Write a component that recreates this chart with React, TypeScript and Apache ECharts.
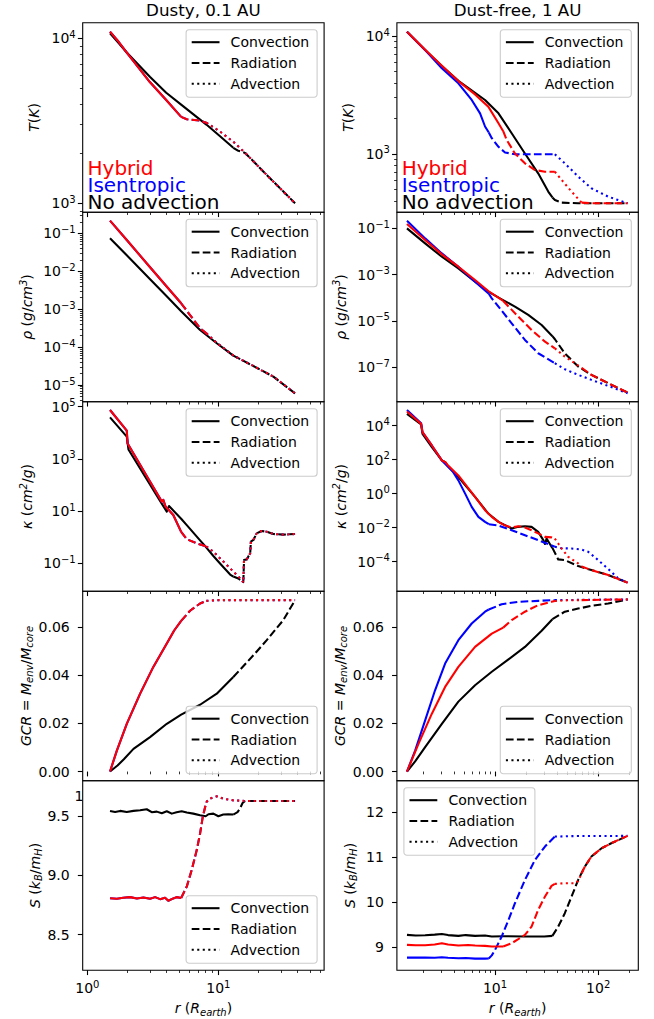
import React, { useEffect, useRef } from "react";
import * as echarts from "echarts";

type Pt = [number, number];
type Regime = [string, number, number];

// ================= Dusty, 0.1 AU (left column) =================
// radius r (R_earth) , value
const dustyT_noAdv: Pt[] = [[1.49,10720],[1.7,9530],[2,8200],[3,5850],[4,4680],[5.2,3960],[8.1,3000],[10.3,2550],[13,2170],[14,2090],[16,2020],[24,1455],[38.5,1000]];
const dustyT_hybrid: Pt[] = [[1.49,10970],[1.7,9700],[2,8180],[3,5430],[4,4230],[5.2,3340],[5.74,3230],[7.25,3170],[8.1,3080],[10.3,2720],[13,2360],[16,2020],[24,1455],[38.5,1000]];

const dustyRho_noAdv: Pt[] = [[1.49,0.0738],[2,0.0263],[3,6.25e-3],[4,2.25e-3],[5.2,8.8e-4],[7.25,2.83e-4],[9.72,1.26e-4],[13,5.94e-5],[18.5,3.17e-5],[26.3,1.66e-5],[38.5,6.0e-6]];
const dustyRho_hybrid: Pt[] = [[1.49,0.216],[2,0.0667],[3,0.0129],[4,4.08e-3],[5.2,1.43e-3],[6.08,7.0e-4],[7.25,3.13e-4],[8.1,2.3e-4],[9.72,1.3e-4],[13,6.0e-5],[18.5,3.17e-5],[26.3,1.66e-5],[38.5,6.0e-6]];

const dustyKappa_noAdv: Pt[] = [[1.49,3.9e4],[2.0,7.1e3],[2.06,2.3e3],[2.84,166],[3.59,24.3],[4.04,9.5],[4.2,15.6],[5.2,5.1],[5.74,2.9],[7.25,0.75],[8.1,0.40],[9.16,0.19],[10.3,0.098],[12.3,0.037],[13,0.031],[14.2,0.026],[15.5,0.019],[15.7,0.133],[16.5,0.141],[16.9,0.179],[17.5,0.24],[17.7,0.67],[18.5,0.78],[19.6,1.40],[21.4,1.72],[23.4,1.62],[26.3,1.32],[31.3,1.25],[38.5,1.32]];
const dustyKappa_hybrid: Pt[] = [[1.49,7.45e4],[2.0,1.2e4],[2.03,3.9e3],[2.84,222],[3.59,29.9],[3.7,22.9],[3.8,27],[3.95,15],[4.53,7.07],[5.2,1.6],[5.74,0.83],[6.84,0.58],[8.1,0.44],[9.16,0.278],[11.6,0.086],[13,0.048],[15.1,0.023],[15.5,0.018],[15.7,0.133],[16.5,0.141],[16.9,0.179],[17.5,0.24],[17.7,0.67],[18.5,0.78],[19.6,1.40],[21.4,1.72],[23.4,1.62],[26.3,1.32],[31.3,1.25],[38.5,1.32]];

const dustyGCR_noAdv: Pt[] = [[1.49,0],[1.7,0.0025],[1.9,0.0051],[2.25,0.0094],[3.01,0.0143],[4.04,0.0198],[5.2,0.0236],[7.25,0.0277],[9.72,0.0323],[13,0.0392],[18.5,0.0482],[23.4,0.0545],[31.3,0.0628],[38.5,0.0711]];
const dustyGCR_hybrid: Pt[] = [[1.49,0],[1.68,0.0087],[2.0,0.0198],[2.53,0.0323],[3.19,0.0434],[4.04,0.0531],[4.6,0.0585],[5.2,0.0625],[6.08,0.0667],[7.25,0.0697],[8.1,0.0708],[10,0.0711],[38.5,0.0711]];

const dustyS_noAdv: Pt[] = [[1.49,9.545],[1.63,9.536],[1.78,9.545],[2.0,9.536],[2.25,9.545],[2.53,9.55],[2.84,9.559],[3.1,9.534],[3.39,9.539],[3.7,9.525],[4.04,9.542],[4.41,9.522],[4.8,9.534],[5.25,9.542],[5.74,9.531],[6.44,9.522],[7.25,9.508],[8.0,9.5],[8.4,9.517],[9.16,9.522],[10,9.5],[10.9,9.514],[11.9,9.517],[13,9.514],[14,9.534],[14.6,9.564],[15.3,9.612],[16,9.629],[38.5,9.629]];
const dustyS_hybrid: Pt[] = [[1.49,8.808],[1.68,8.803],[1.88,8.811],[2.12,8.817],[2.39,8.806],[2.68,8.814],[3.01,8.803],[3.29,8.817],[3.59,8.8],[3.92,8.811],[4.15,8.786],[4.53,8.806],[4.8,8.817],[5.2,8.81],[5.74,8.906],[6.26,9.046],[6.84,9.214],[7.25,9.354],[7.6,9.494],[8.1,9.62],[8.55,9.648],[9.72,9.668],[10.9,9.648],[13,9.634],[16,9.629],[38.5,9.629]];
// (in the dusty case the isentropic model coincides with the hybrid one)

// ================= Dust-free, 1 AU (right column) =================
const freeT_noAdv: Pt[] = [[1.4,10890],[2.1,7610],[3.05,5560],[4.41,4170],[6.4,3300],[8.0,2870],[10.8,2210],[14.5,1500],[19.5,1010],[26.2,685],[32.8,480],[36,428],[38.1,407],[44.2,387],[64,382],[193,382]];
const freeT_hybrid: Pt[] = [[1.4,10890],[2.1,7660],[3.05,5600],[4.41,4150],[6.4,3200],[8.6,2520],[10.8,1820],[12,1560],[13,1310],[15.6,1010],[19.5,834],[24.4,731],[30.5,708],[38,708],[44.2,603],[55.2,480],[69,387],[86,382],[193,382]];
const freeT_isen: Pt[] = [[1.4,10890],[2.1,7610],[3.05,5320],[4.41,3970],[5.94,2870],[7.16,2210],[8.0,1710],[8.7,1520],[9.3,1360],[10.8,1150],[12.5,1030],[15.6,995],[38,995],[47.5,834],[64,643],[86,512],[125,435],[193,382]];

const freeRho_noAdv: Pt[] = [[1.4,0.1],[2.1,0.0225],[3.05,5.98e-3],[4.41,1.87e-3],[6.4,4.99e-4],[8.6,1.85e-4],[11.6,8.6e-5],[15.6,4.16e-5],[21,1.82e-5],[28.3,6.7e-6],[36,2.2e-6],[38.1,1.62e-6],[47.5,4.0e-7],[64,1.07e-7],[86,4.67e-8],[125,2.04e-8],[193,8.0e-9]];
const freeRho_hybrid: Pt[] = [[1.4,0.154],[2.1,0.0313],[3.05,7.55e-3],[4.41,2.21e-3],[6.4,5.89e-4],[8.6,1.97e-4],[12,7.3e-5],[16.8,1.54e-5],[22.6,4.09e-6],[30.5,1.28e-6],[38,6.6e-7],[47.5,2.88e-7],[59.4,1.49e-7],[69,9.5e-8],[86,4.67e-8],[125,2.04e-8],[193,8.0e-9]];
const freeRho_isen: Pt[] = [[1.4,0.214],[2.1,0.037],[3.05,8.3e-3],[4.41,2.21e-3],[6.4,4.99e-4],[8.7,1.5e-4],[9.3,9.5e-5],[10.8,4.16e-5],[14.5,7.9e-6],[19.5,1.51e-6],[26.2,4.02e-7],[38,1.49e-7],[47.5,8.2e-8],[64,4.67e-8],[86,2.84e-8],[125,1.56e-8],[193,7.55e-9]];

const freeKappa_noAdv: Pt[] = [[1.4,4.82e4],[1.92,1.15e4],[1.98,3.25e3],[2.44,539],[3.05,89.4],[3.3,70],[3.45,45],[4.41,9.46],[6.4,0.638],[8.6,0.0675],[10.8,0.0219],[14.5,0.0089],[16.8,0.0112],[19.5,0.0122],[22.6,0.0112],[26.2,0.0057],[29.4,0.00185],[30.5,0.0011],[31.6,0.0023],[35.3,7.55e-4],[36,6.5e-4],[41,1.37e-4],[47.5,1.25e-4],[64,5.57e-5],[86,3.25e-5],[125,1.66e-5],[193,5.9e-6]];
const freeKappa_hybrid: Pt[] = [[1.4,6.6e4],[1.92,1.25e4],[1.98,4.07e3],[2.44,675],[3.05,89],[3.3,70],[3.45,50],[4.41,11.8],[6.4,0.638],[8.0,0.106],[9.3,0.0431],[10.8,0.0219],[12,0.015],[14.5,0.0102],[16.8,0.0122],[19.5,0.0102],[22.6,0.0071],[26.2,0.0046],[30.5,0.0029],[35.3,0.0027],[38,0.0023],[41,0.00118],[44.2,6.0e-4],[51.2,1.96e-4],[64,8.0e-5],[69,5.2e-5],[86,3.25e-5],[125,1.66e-5],[193,5.9e-6]];
const freeKappa_isen: Pt[] = [[1.4,8.26e4],[1.92,1.37e4],[1.98,4.07e3],[2.44,675],[3.05,89],[3.89,20],[4.41,6.03],[5.13,1.0],[5.94,0.166],[6.9,0.0431],[8.0,0.0219],[8.7,0.016],[10.8,0.0134],[14.5,0.0071],[19.5,0.0036],[26.2,0.00185],[38,7.55e-4],[44.2,6.2e-4],[55.2,6.0e-4],[69,5.2e-4],[80,3.85e-4],[100,1.25e-4],[134,2.6e-5],[156,1.06e-5],[193,5.9e-6]];

const freeGCR_noAdv: Pt[] = [[1.4,0],[1.68,0.0042],[2.1,0.0101],[3.05,0.0198],[4.41,0.029],[6.4,0.0358],[9.3,0.0414],[13.5,0.0465],[19.5,0.0517],[28.3,0.0584],[36,0.0632],[47.5,0.0663],[64,0.0676],[86,0.0687],[125,0.0697],[193,0.0714]];
const freeGCR_hybrid: Pt[] = [[1.4,0],[1.81,0.0115],[2.44,0.024],[3.28,0.0351],[4.41,0.0434],[6.4,0.0517],[9.3,0.0572],[12,0.0597],[14.5,0.0628],[19.5,0.0663],[26.2,0.069],[35.3,0.0704],[38,0.0707],[47.5,0.071],[69,0.0711],[193,0.0714]];
const freeGCR_isen: Pt[] = [[1.4,0],[1.68,0.0087],[2.1,0.0212],[2.62,0.0337],[3.28,0.0448],[4.41,0.0545],[5.94,0.0614],[8.0,0.0663],[8.7,0.0672],[11.6,0.0694],[16.8,0.0704],[26.2,0.0708],[38,0.0711],[193,0.0714]];

const freeS_noAdv: Pt[] = [[1.4,9.274],[1.7,9.26],[2.1,9.265],[2.6,9.28],[3.05,9.296],[3.5,9.27],[4.41,9.252],[5.2,9.27],[6.4,9.252],[8,9.26],[9.3,9.237],[12,9.245],[19.5,9.237],[30,9.24],[36,9.252],[41,9.459],[47.5,9.756],[55.2,10.126],[64,10.496],[74.3,10.793],[86,11.015],[108,11.2],[134,11.311],[193,11.474]];
const freeS_hybrid: Pt[] = [[1.4,9.052],[1.7,9.045],[2.1,9.044],[2.6,9.06],[3.05,9.089],[3.5,9.06],[4.41,9.037],[5.5,9.05],[6.4,9.037],[8,9.03],[9.3,9.015],[12,9.015],[14.5,9.089],[16.8,9.178],[19.5,9.274],[22.6,9.459],[26.2,9.83],[30.5,10.126],[35.3,10.363],[38,10.407],[47.5,10.422],[59.4,10.422],[64,10.47],[69,10.64],[74.3,10.793],[86,11.015],[108,11.2],[134,11.311],[193,11.474]];
const freeS_isen: Pt[] = [[1.4,8.77],[1.7,8.77],[2.1,8.77],[2.6,8.765],[3.05,8.778],[3.5,8.765],[4.41,8.756],[5.2,8.76],[6.4,8.748],[8,8.748],[8.7,8.75],[9.3,8.82],[10,8.941],[11.6,9.237],[13.5,9.607],[15.6,9.978],[19.5,10.496],[24.4,10.941],[30.5,11.237],[38,11.459],[60,11.47],[193,11.474]];

// ================= transport regimes (radius ranges) =================
const dustyNoAdvRegimes: Regime[] = [["conv", 1.49, 13], ["rad", 13, 38.5]];
const dustyHybridRegimes: Regime[] = [["conv", 1.49, 5.2], ["rad", 5.2, 8.1], ["adv", 8.1, 38.5]];
const freeNoAdvRegimes: Regime[] = [["conv", 1.4, 36], ["rad", 36, 193]];
const freeHybridRegimes: Regime[] = [["conv", 1.4, 12], ["rad", 12, 38], ["adv", 38, 69], ["rad", 69, 193]];
const freeIsenRegimes: Regime[] = [["conv", 1.4, 8.7], ["rad", 8.7, 38], ["adv", 38, 193]];

// ================= texts / ticks =================
const columnTitles = ["Dusty, 0.1 AU", "Dust-free, 1 AU"];
const legendLabels = ["Convection", "Radiation", "Advection"];
const modelLabels = ["Hybrid", "Isentropic", "No advection"];
const modelLabelColors = ["#ff0000", "#0000ff", "#000000"];
const xMajorTicks = [[1, 10], [10, 100]];
const xLimits = [[0.922, 64.1], [1.118, 245]];
const tMajor = [1e3, 1e4];
const rhoMajorL = [1e-5, 1e-4, 1e-3, 1e-2, 1e-1];
const rhoMajorR = [1e-7, 1e-5, 1e-3, 1e-1];
const kappaMajorL = [1e-1, 1e1, 1e3, 1e5];
const kappaMajorR = [1e-4, 1e-2, 1, 1e2, 1e4];
const gcrTicks = [0, 0.02, 0.04, 0.06];
const sTicksL = [8.5, 9.0, 9.5];
const sTicksR = [9, 10, 11, 12];

// ================= styling =================
const FONT = "DejaVu Sans";
const LW = 2.08;
const DASH: Record<string, any> = { conv: "solid", rad: [7.7, 3.3], adv: [2.08, 3.44] };
const LEG_DASH: any[] = [null, [7.7, 3.3], [2.08, 3.44]];
const COLOR: Record<string, string> = { noAdv: "#000000", isen: "#0000ff", hybrid: "#ff0000" };
const GRID_LEFT = [82.7, 396.9];
const GRID_W = 241.4;
const ROW_TOP = [22.7, 212.2, 401.7, 591.2, 780.7];
const ROW_H = 189.5;
const LEG_W = 131;
const LEG_H = 67.5;

const TICK_RICH = {
  b: { fontFamily: FONT, fontSize: 14, lineHeight: 18, color: "#000" },
  s: { fontFamily: FONT, fontSize: 10, lineHeight: 10, verticalAlign: "top", color: "#000" },
};
const NAME_RICH = {
  i: { fontFamily: FONT, fontSize: 14, fontStyle: "italic", lineHeight: 18, color: "#000" },
  n: { fontFamily: FONT, fontSize: 14, lineHeight: 18, color: "#000" },
  s: { fontFamily: FONT, fontSize: 10, fontStyle: "italic", lineHeight: 10, verticalAlign: "top", color: "#000" },
  d: { fontFamily: FONT, fontSize: 10, fontStyle: "italic", lineHeight: 10, verticalAlign: "bottom", color: "#000" },
};

function logLabel(v: number) {
  const e = Math.round(Math.log10(v));
  return "{b|10}{s|" + (e < 0 ? "\u2212" + -e : String(e)) + "}";
}
function minorLogTicks(min: number, max: number) {
  const out: number[] = [];
  for (let e = Math.floor(Math.log10(min)); e <= Math.ceil(Math.log10(max)); e++) {
    for (let k = 2; k <= 9; k++) {
      const v = k * Math.pow(10, e);
      if (v > min && v < max) out.push(v);
    }
  }
  return out;
}
function split(points: Pt[], regimes: Regime[]) {
  return regimes.map(([style, a, b]) => ({ style, data: points.filter((p) => p[0] >= a && p[0] <= b) }));
}

type Curve = [Pt[], string, Regime[]];
interface Panel {
  row: number; col: number; kind: string; lim: number[]; majors: number[]; minor: boolean;
  fmt: (v: number) => string; name: string; gap: number; margin: number; curves: Curve[]; legend: string;
}

const panels: Panel[] = [
  { row: 0, col: 0, kind: "log", lim: [883, 12430], majors: tMajor, minor: true, fmt: logLabel, name: "{i|T}{n|(}{i|K}{n|)}", gap: 40, margin: 7,
    curves: [[dustyT_noAdv, "noAdv", dustyNoAdvRegimes], [dustyT_hybrid, "isen", dustyHybridRegimes], [dustyT_hybrid, "hybrid", dustyHybridRegimes]], legend: "tr" },
  { row: 0, col: 1, kind: "log", lim: [321, 12970], majors: tMajor, minor: true, fmt: logLabel, name: "{i|T}{n|(}{i|K}{n|)}", gap: 40, margin: 7,
    curves: [[freeT_noAdv, "noAdv", freeNoAdvRegimes], [freeT_isen, "isen", freeIsenRegimes], [freeT_hybrid, "hybrid", freeHybridRegimes]], legend: "tr" },
  { row: 1, col: 0, kind: "log", lim: [3.63e-6, 0.36], majors: rhoMajorL, minor: true, fmt: logLabel, name: "{i|ρ}{n| (}{i|g}{n|/}{i|cm}{s|3}{n|)}", gap: 46.5, margin: 7,
    curves: [[dustyRho_noAdv, "noAdv", dustyNoAdvRegimes], [dustyRho_hybrid, "isen", dustyHybridRegimes], [dustyRho_hybrid, "hybrid", dustyHybridRegimes]], legend: "tr" },
  { row: 1, col: 1, kind: "log", lim: [3.24e-9, 0.501], majors: rhoMajorR, minor: false, fmt: logLabel, name: "{i|ρ}{n| (}{i|g}{n|/}{i|cm}{s|3}{n|)}", gap: 47, margin: 7,
    curves: [[freeRho_noAdv, "noAdv", freeNoAdvRegimes], [freeRho_isen, "isen", freeIsenRegimes], [freeRho_hybrid, "hybrid", freeHybridRegimes]], legend: "tr" },
  { row: 2, col: 0, kind: "log", lim: [8.5e-3, 1.55e5], majors: kappaMajorL, minor: false, fmt: logLabel, name: "{i|κ}{n| (}{i|cm}{s|2}{n|/}{i|g}{n|)}", gap: 46.5, margin: 7,
    curves: [[dustyKappa_noAdv, "noAdv", dustyNoAdvRegimes], [dustyKappa_hybrid, "isen", dustyHybridRegimes], [dustyKappa_hybrid, "hybrid", dustyHybridRegimes]], legend: "tr" },
  { row: 2, col: 1, kind: "log", lim: [1.86e-6, 2.51e5], majors: kappaMajorR, minor: false, fmt: logLabel, name: "{i|κ}{n| (}{i|cm}{s|2}{n|/}{i|g}{n|)}", gap: 47, margin: 7,
    curves: [[freeKappa_noAdv, "noAdv", freeNoAdvRegimes], [freeKappa_isen, "isen", freeIsenRegimes], [freeKappa_hybrid, "hybrid", freeHybridRegimes]], legend: "tr" },
  { row: 3, col: 0, kind: "value", lim: [-0.0038, 0.0748], majors: gcrTicks, minor: false, fmt: (v) => v.toFixed(2), name: "{i|GCR}{n| = }{i|M}{d|env}{n|/}{i|M}{d|core}", gap: 46, margin: 13,
    curves: [[dustyGCR_noAdv, "noAdv", dustyNoAdvRegimes], [dustyGCR_hybrid, "isen", dustyHybridRegimes], [dustyGCR_hybrid, "hybrid", dustyHybridRegimes]], legend: "br" },
  { row: 3, col: 1, kind: "value", lim: [-0.0038, 0.0748], majors: gcrTicks, minor: false, fmt: (v) => v.toFixed(2), name: "{i|GCR}{n| = }{i|M}{d|env}{n|/}{i|M}{d|core}", gap: 46, margin: 13,
    curves: [[freeGCR_noAdv, "noAdv", freeNoAdvRegimes], [freeGCR_isen, "isen", freeIsenRegimes], [freeGCR_hybrid, "hybrid", freeHybridRegimes]], legend: "br" },
  { row: 4, col: 0, kind: "value", lim: [8.2, 9.8], majors: sTicksL, minor: false, fmt: (v) => v.toFixed(1), name: "{i|S}{n| (}{i|k}{d|B}{n|/}{i|m}{d|H}{n|)}", gap: 38.5, margin: 13,
    curves: [[dustyS_noAdv, "noAdv", dustyNoAdvRegimes], [dustyS_hybrid, "isen", dustyHybridRegimes], [dustyS_hybrid, "hybrid", dustyHybridRegimes]], legend: "br" },
  { row: 4, col: 1, kind: "value", lim: [8.49, 12.7], majors: sTicksR, minor: false, fmt: (v) => String(v), name: "{i|S}{n| (}{i|k}{d|B}{n|/}{i|m}{d|H}{n|)}", gap: 38, margin: 13,
    curves: [[freeS_noAdv, "noAdv", freeNoAdvRegimes], [freeS_isen, "isen", freeIsenRegimes], [freeS_hybrid, "hybrid", freeHybridRegimes]], legend: "tl" },
];

function legendGroup(bx: number, by: number) {
  const children: any[] = [
    { type: "rect", z: 100, shape: { x: bx, y: by, width: LEG_W, height: LEG_H, r: 3 },
      style: { fill: "rgba(255,255,255,0.8)", stroke: "#cccccc", lineWidth: 1.1 } },
  ];
  legendLabels.forEach((lab, i) => {
    const y = by + 12.5 + i * 20.8;
    children.push({ type: "line", z: 101, shape: { x1: bx + 5.6, y1: y, x2: bx + 33.4, y2: y },
      style: { stroke: "#000", lineWidth: LW, lineDash: LEG_DASH[i], lineCap: "butt" } });
    children.push({ type: "text", z: 101, x: bx + 44.5, y,
      style: { text: lab, fontFamily: FONT, fontSize: 14, lineHeight: 16, fill: "#000", align: "left", verticalAlign: "middle" } });
  });
  return children;
}

function buildOption() {
  const grid: any[] = [], xAxis: any[] = [], yAxis: any[] = [], series: any[] = [], graphic: any[] = [];
  const xName = "{i|r}{n| (}{i|R}{d|earth}{n|)}";
  panels.forEach((p, g) => {
    const left = GRID_LEFT[p.col], top = ROW_TOP[p.row];
    grid.push({ left, top, width: GRID_W, height: ROW_H, show: true, borderColor: "#000", borderWidth: 1.1, backgroundColor: "transparent" });
    const [xmin, xmax] = xLimits[p.col];
    const bottom = p.row === 4;
    xAxis.push({
      type: "log", logBase: 10, gridIndex: g, position: "bottom", min: xmin, max: xmax,
      axisLine: { show: false }, splitLine: { show: false },
      axisTick: { show: true, inside: false, length: 4.86, lineStyle: { color: "#000", width: 1.1 }, customValues: xMajorTicks[p.col] },
      axisLabel: { show: bottom, customValues: xMajorTicks[p.col], formatter: logLabel, margin: 9, rich: TICK_RICH, fontFamily: FONT, fontSize: 14, color: "#000" },
      name: bottom ? xName : "", nameLocation: "middle", nameGap: 28.8,
      nameTextStyle: { fontFamily: FONT, fontSize: 14, color: "#000", lineHeight: 18, rich: NAME_RICH },
    });
    xAxis.push({
      type: "log", logBase: 10, gridIndex: g, position: "bottom", min: xmin, max: xmax,
      axisLine: { show: false }, splitLine: { show: false }, axisLabel: { show: false },
      axisTick: { show: true, inside: false, length: 2.78, lineStyle: { color: "#000", width: 0.8 }, customValues: minorLogTicks(xmin, xmax) },
    });
    const [ymin, ymax] = p.lim;
    const yBase: any = p.kind === "log" ? { type: "log", logBase: 10 } : { type: "value", scale: true };
    yAxis.push({
      ...yBase, gridIndex: g, position: "left", min: ymin, max: ymax,
      axisLine: { show: false }, splitLine: { show: false },
      axisTick: { show: true, inside: false, length: 4.86, lineStyle: { color: "#000", width: 1.1 }, customValues: p.majors },
      axisLabel: { show: true, customValues: p.majors, formatter: p.fmt, margin: p.margin, rich: TICK_RICH, fontFamily: FONT, fontSize: 14, color: "#000" },
      name: p.name, nameLocation: "middle", nameGap: p.gap,
      nameTextStyle: { fontFamily: FONT, fontSize: 14, color: "#000", lineHeight: 18, rich: NAME_RICH },
    });
    yAxis.push({
      ...yBase, gridIndex: g, position: "left", min: ymin, max: ymax,
      axisLine: { show: false }, splitLine: { show: false }, axisLabel: { show: false },
      axisTick: p.minor
        ? { show: true, inside: false, length: 2.78, lineStyle: { color: "#000", width: 0.8 }, customValues: minorLogTicks(ymin, ymax) }
        : { show: false },
    });
    p.curves.forEach(([pts, model, regimes]) => {
      split(pts, regimes).forEach((seg) => {
        series.push({
          type: "line", xAxisIndex: 2 * g, yAxisIndex: 2 * g, data: seg.data,
          showSymbol: false, symbol: "none", silent: true, animation: false, z: 2, smooth: false,
          lineStyle: { color: COLOR[model], width: LW, type: DASH[seg.style], cap: "butt", join: "round" },
        });
      });
    });
    const bx = p.legend === "tl" ? left + 7 : left + GRID_W - 7 - LEG_W;
    const by = p.legend === "br" ? top + ROW_H - 7 - LEG_H : top + 7;
    graphic.push(...legendGroup(bx, by));
  });

  // column titles and model annotations
  columnTitles.forEach((t, c) => {
    graphic.push({ type: "text", z: 101, x: GRID_LEFT[c] + GRID_W / 2, y: 9.7,
      style: { text: t, fontFamily: FONT, fontSize: 16.7, lineHeight: 18, fill: "#000", align: "center", verticalAlign: "middle" } });
    modelLabels.forEach((m, i) => {
      graphic.push({ type: "text", z: 101, x: GRID_LEFT[c] + 4.8, y: 168 + i * 17,
        style: { text: m, fontFamily: FONT, fontSize: 20, lineHeight: 16, fill: modelLabelColors[i], align: "left", verticalAlign: "middle" } });
    });
  });
  graphic.push({ type: "text", z: 101, x: 74.5, y: 796,
    style: { text: "1", fontFamily: FONT, fontSize: 14, lineHeight: 16, fill: "#000", align: "left", verticalAlign: "middle" } });

  return { animation: false, backgroundColor: "#ffffff", grid, xAxis, yAxis, series, graphic };
}

export default function App() {
  const ref = useRef<HTMLDivElement>(null);
  useEffect(() => {
    const chart = echarts.init(ref.current as HTMLDivElement, null, { renderer: "svg" });
    chart.setOption(buildOption() as any);
    return () => chart.dispose();
  }, []);
  return <div ref={ref} style={{ position: "absolute", left: 0, top: 0, width: 654, height: 1019, background: "#fff" }} />;
}
